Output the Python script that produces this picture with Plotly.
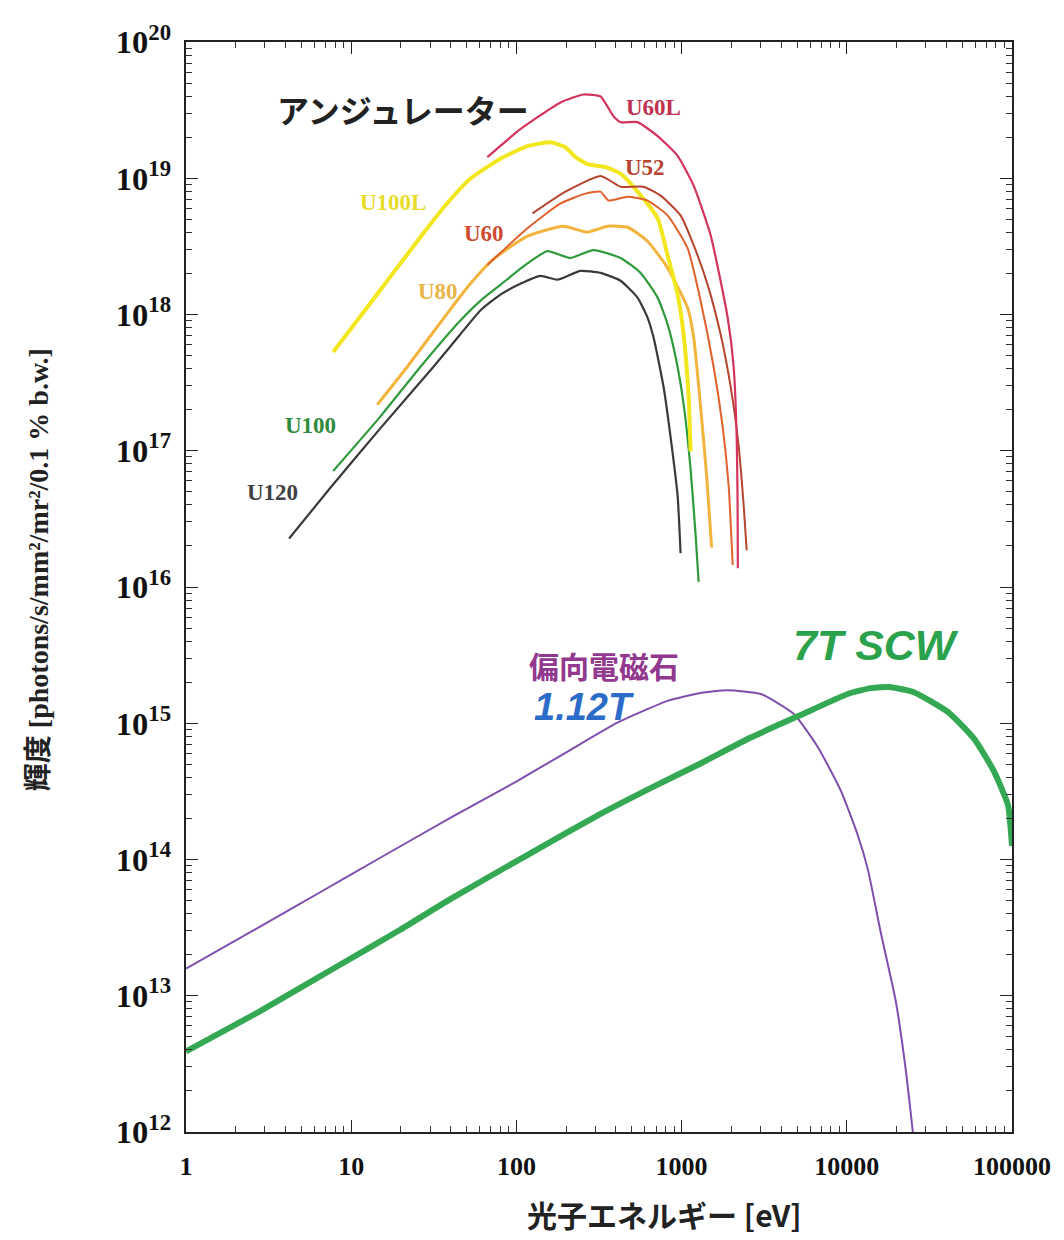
import plotly.graph_objects as go

# ---------------- data (photon energy [eV], brightness) ----------------
u120_e = [4.21, 7.46, 15.0, 31.4, 45.8, 60.5, 80, 105.7, 139.8, 177, 244, 323, 427, 541, 622, 676, 778, 857, 946, 986]
u120_b = [2.27e16, 5.33e16, 1.46e17, 4.12e17, 7.16e17, 1.07e18, 1.40e18, 1.68e18, 1.92e18, 1.80e18,
          2.09e18, 2.02e18, 1.77e18, 1.33e18, 9.5e17, 6.8e17, 2.94e17, 1.27e17, 4.67e16, 1.77e16]

u100_e = [7.78, 15.0, 26.2, 45.8, 60.5, 80, 113.4, 154, 212, 293, 427, 565, 716, 822, 920, 1028, 1134, 1216, 1268]
u100_b = [7.1e16, 1.78e17, 4.12e17, 9.04e17, 1.26e18, 1.65e18, 2.31e18, 2.92e18, 2.60e18, 2.97e18,
          2.60e18, 2.02e18, 1.33e18, 8.5e17, 4.87e17, 2.21e17, 7.3e16, 2.39e16, 1.09e16]

u80_e = [14.4, 21.8, 38.2, 52.6, 72.6, 116.6, 192.7, 269, 356, 471, 622, 822, 1087, 1183, 1303, 1418, 1520]
u80_b = [2.18e17, 4.12e17, 1.02e18, 1.68e18, 2.55e18, 3.76e18, 4.44e18, 4.02e18, 4.44e18, 4.37e18,
         3.45e18, 2.2e18, 1.12e18, 6.8e17, 2.11e17, 6.5e16, 1.95e16]

u100l_e = [7.78, 11.34, 17.97, 26.2, 37.1, 52.6, 80, 116.6, 160.8, 198, 228, 269, 346, 427, 541, 716,
           822, 946, 1028, 1103, 1134]
u100l_b = [5.3e17, 9.67e17, 2.02e18, 3.69e18, 6.31e18, 9.92e18, 1.39e19, 1.72e19, 1.84e19, 1.69e19,
           1.43e19, 1.27e19, 1.21e19, 1.08e19, 7.98e18, 5.07e18, 2.73e18, 1.40e18, 7.16e17, 2.49e17, 9.9e16]

u60_e = [66.7, 116.6, 185, 262, 323, 361, 471, 622, 822, 1087, 1303, 1563, 1771, 1927, 2038]
u60_b = [2.31e18, 4.29e18, 6.53e18, 7.71e18, 7.98e18, 6.86e18, 7.33e18, 6.86e18, 5.34e18, 3.07e18,
         1.26e18, 4.12e17, 1.51e17, 5.52e16, 1.45e16]

u52_e = [125, 198, 323, 427, 588, 746, 986, 1183, 1438, 1722, 1982, 2215, 2376, 2477]
u52_b = [5.52e18, 7.98e18, 1.04e19, 8.67e18, 8.67e18, 7.46e18, 5.34e18, 3.23e18, 1.65e18, 7.16e17,
         2.94e17, 1.08e17, 3.95e16, 1.86e16]

u60l_e = [66.7, 105.7, 185, 255, 323, 387, 427, 541, 716, 946, 1183, 1499, 1900, 2066, 2155, 2183, 2190]
u60l_b = [1.43e19, 2.29e19, 3.6e19, 4.12e19, 3.98e19, 2.85e19, 2.58e19, 2.58e19, 2.04e19, 1.46e19,
          8.82e18, 3.82e18, 9.5e17, 4.12e17, 1.27e17, 3.95e16, 1.37e16]

bm_e = [1.0, 2.93, 6.49, 15.0, 39.8, 101, 204, 409, 822, 1303, 1900, 3015, 4780, 6670, 9200, 11670,
        13400, 16070, 19800, 22800, 25100, 26600]
bm_b = [1.58e13, 3.31e13, 5.75e13, 1.03e14, 2.02e14, 3.76e14, 6.2e14, 1.01e15, 1.46e15, 1.67e15,
        1.75e15, 1.64e15, 1.17e15, 6.7e14, 3.2e14, 1.5e14, 8.5e13, 2.9e13, 9.1e12, 2.8e12, 1.0e12, 4.5e11]

scw_e = [1.0, 2.81, 8.2, 19.8, 39.8, 121.5, 323, 649, 1303, 2620, 5260, 10140, 13970, 18480, 25470,
         40900, 58900, 77800, 94600, 100000]
scw_b = [3.9e12, 7.71e12, 1.64e13, 3.05e13, 5.12e13, 1.11e14, 2.16e14, 3.34e14, 5.07e14, 7.85e14,
         1.15e15, 1.64e15, 1.81e15, 1.84e15, 1.69e15, 1.21e15, 7.7e14, 4.44e14, 2.5e14, 1.26e14]

# ---------------- figure ----------------
fig = go.Figure()

series = [
    ("U120", u120_e, u120_b, "#3a3a3a", 2.2),
    ("U100", u100_e, u100_b, "#2f9a3c", 2.2),
    ("U80", u80_e, u80_b, "#f2b43c", 3.0),
    ("U100L", u100l_e, u100l_b, "#f2e61e", 4.0),
    ("U60", u60_e, u60_b, "#e0602e", 2.0),
    ("U52", u52_e, u52_b, "#b5452e", 2.0),
    ("U60L", u60l_e, u60l_b, "#d4345c", 2.2),
    ("偏向電磁石", bm_e, bm_b, "#7f4fae", 2.0),
    ("7T SCW", scw_e, scw_b, "#34a852", 6.0),
]
for name, xs, ys, col, w in series:
    fig.add_trace(go.Scatter(x=xs, y=ys, mode="lines", name=name,
                             line=dict(color=col, width=w, shape="spline", smoothing=0.5),
                             showlegend=False, hoverinfo="skip"))

serif = "Liberation Serif, Times New Roman, serif"
jp = "Noto Sans CJK JP, sans-serif"
hand = "Liberation Sans, Arial, sans-serif"

labels = [
    ("アンジュレーター", 403, 100, "#222222", 32, jp, False),
    ("U60L", 653, 98, "#c0304f", 23, serif, False),
    ("U52", 644, 159, "#b5452e", 23, serif, False),
    ("U100L", 393, 194, "#e6dc2a", 23, serif, False),
    ("U60", 484, 225, "#cc4a2e", 23, serif, False),
    ("U80", 438, 284, "#e8b446", 23, serif, False),
    ("U100", 310, 419, "#2f8a3c", 23, serif, False),
    ("U120", 272, 487, "#404040", 23, serif, False),
    ("偏向電磁石", 603, 661, "#93388f", 30, jp, False),
    ("1.12T", 584, 703, "#2a6cc8", 38, hand, True),
    ("7T SCW", 875, 641, "#2aa24c", 43, hand, True),
]

X0, PXDEC_X, Y0, PXDEC_Y = 186, 165.0, 32, 137.5
for text, px, py, col, size, fam, ital in labels:
    lx = (px - X0) / PXDEC_X
    ly = 20 - (py - Y0) / PXDEC_Y
    t = f"<b><i>{text}</i></b>" if ital else f"<b>{text}</b>"
    fig.add_annotation(x=lx, y=ly, xref="x", yref="y", text=t, showarrow=False,
                       font=dict(color=col, size=size, family=fam),
                       xanchor="center", yanchor="middle")

# y axis title
fig.add_annotation(x=(38 - 186) / 826, y=(1132 - 565) / 1100, xref="paper", yref="paper",
                   text="<b>輝度 [photons/s/mm²/mr²/0.1 % b.w.]</b>", textangle=-90,
                   showarrow=False, font=dict(family="Liberation Serif, Noto Sans CJK JP, serif",
                                              size=28, color="#222222"),
                   xanchor="center", yanchor="middle")
# x axis title
fig.add_annotation(x=(664 - 186) / 826, y=-(1215 - 1132) / 1100, xref="paper", yref="paper",
                   text="<b>光子エネルギー [eV]</b>", showarrow=False,
                   font=dict(family="Noto Sans CJK JP, Liberation Serif, serif", size=30, color="#222222"),
                   xanchor="center", yanchor="middle")

axis_common = dict(
    showgrid=False, zeroline=False, showline=True, linecolor="#222222", linewidth=1.5,
    mirror="ticks", ticks="inside", ticklen=12, tickwidth=1.3, tickcolor="#222222",
    minor=dict(ticks="inside", ticklen=6, tickwidth=1, tickcolor="#333333", showgrid=False, dtick="D1"),
)

fig.update_xaxes(type="log", range=[0, 5], tickmode="linear", tick0=0, dtick=1,
                 tickformat="d",
                 tickfont=dict(family=serif, size=26, color="#111111", weight="bold"),
                 ticklabelstandoff=10, **axis_common)
fig.update_yaxes(type="log", range=[12, 20], tickmode="linear", tick0=0, dtick=1,
                 exponentformat="power",
                 tickfont=dict(family=serif, size=26, color="#111111", weight="bold"),
                 ticklabelstandoff=8, **axis_common)

# the page body adds an 8 px offset, so the figure is 8 px smaller than the window
fig.update_layout(
    width=1056, height=1232,
    margin=dict(l=178, r=52, t=24, b=108),
    paper_bgcolor="white", plot_bgcolor="white",
    showlegend=False,
)

fig.write_html("out.html")
